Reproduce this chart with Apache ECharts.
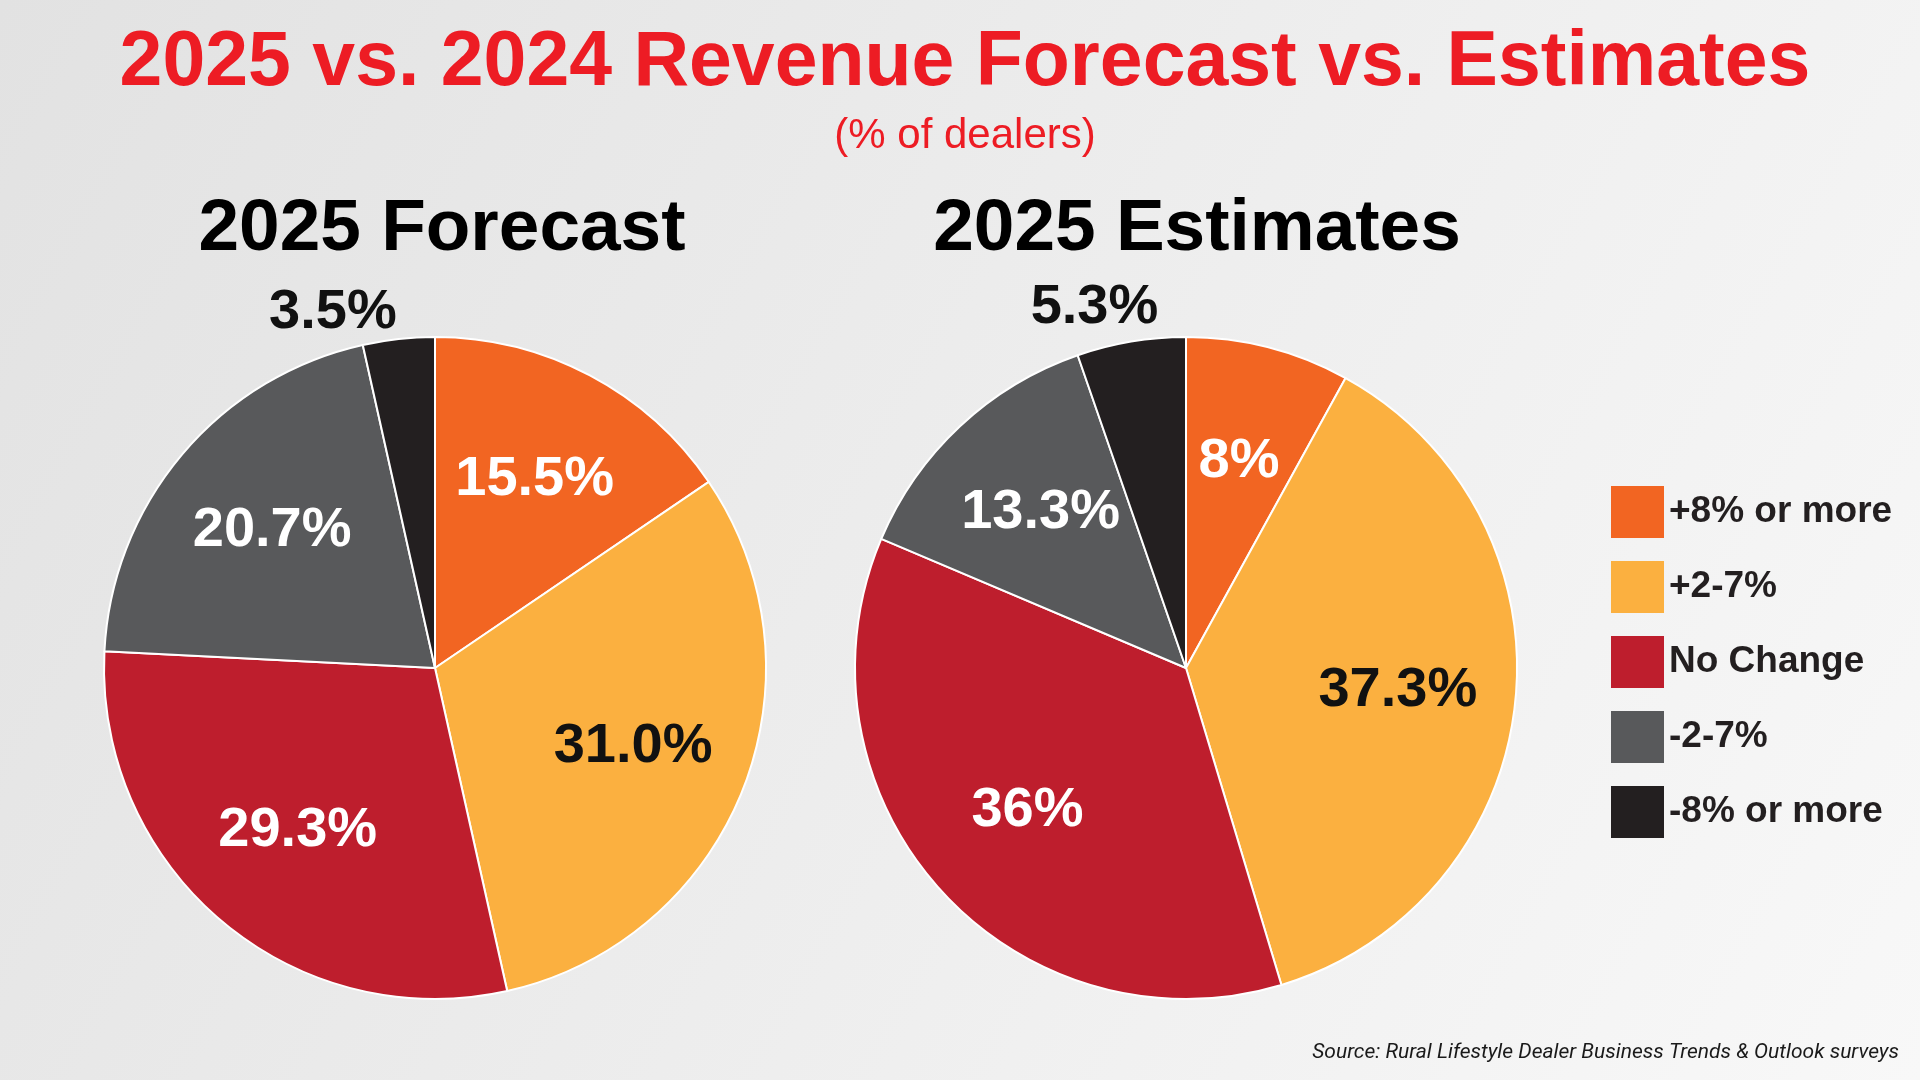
<!DOCTYPE html>
<html>
<head>
<meta charset="utf-8">
<title>2025 vs. 2024 Revenue Forecast vs. Estimates</title>
<script src="https://cdn.jsdelivr.net/npm/echarts@6/dist/echarts.min.js"></script>
<style>
html, body { margin: 0; padding: 0; }
#chart { width: 1920px; height: 1080px; }
</style>
</head>
<body>
<div id="chart"></div>
<script>
// data
const CATEGORIES = ['+8% or more', '+2-7%', 'No Change', '-2-7%', '-8% or more']
const FORECAST_2025 = [15.5, 31.0, 29.3, 20.7, 3.5]
const ESTIMATES_2025 = [8, 37.3, 36, 13.3, 5.3]
const FORECAST_TEXT = ['15.5%', '31.0%', '29.3%', '20.7%', '3.5%']
const ESTIMATES_TEXT = ['8%', '37.3%', '36%', '13.3%', '5.3%']

const SLICE_COLORS = ['#f26522', '#fbb040', '#be1e2d', '#58595b', '#231f20']
const INSIDE_TEXT_COLORS = ['#ffffff', '#111111', '#ffffff', '#ffffff', '#ffffff']
const SANS = '"Liberation Sans", Arial, sans-serif'
const SMALL_SLICE = 6

const R = 331
const GHOST_R = 420

const chart = echarts.init(document.getElementById('chart'))

// the real pie: slices + the outside label for the tiny slice
const mainPie = (values, texts, cx, lineLen, lineLen2) => ({
  type: 'pie',
  center: [cx, 668],
  radius: [0, R],
  startAngle: 90,
  clockwise: true,
  avoidLabelOverlap: false,
  silent: true,
  itemStyle: { borderColor: '#ffffff', borderWidth: 2 },
  label: {
    show: false,
    position: 'outside',
    color: '#111111',
    fontFamily: SANS,
    fontWeight: 'bold',
    fontSize: 56,
    formatter: p => texts[p.dataIndex]
  },
  labelLine: { show: false, length: lineLen, length2: lineLen2 },
  data: values.map((v, i) => ({
    name: CATEGORIES[i],
    value: v,
    itemStyle: { color: SLICE_COLORS[i] },
    label: { show: v < SMALL_SLICE }
  }))
})

// transparent, larger pie so the inside labels sit further out
const ghostPie = (values, texts, cx) => ({
  type: 'pie',
  center: [cx, 668],
  radius: [0, GHOST_R],
  startAngle: 90,
  clockwise: true,
  avoidLabelOverlap: false,
  silent: true,
  z: 3,
  itemStyle: { color: 'rgba(0,0,0,0)', borderWidth: 0 },
  label: {
    position: 'inside',
    fontFamily: SANS,
    fontWeight: 'bold',
    fontSize: 56,
    formatter: p => texts[p.dataIndex]
  },
  labelLine: { show: false },
  data: values.map((v, i) => ({
    name: CATEGORIES[i],
    value: v,
    itemStyle: { color: 'rgba(0,0,0,0)' },
    label: { show: v >= SMALL_SLICE, color: INSIDE_TEXT_COLORS[i] }
  }))
})

const option = {
  backgroundColor: new echarts.graphic.LinearGradient(0, 0, 1, 1, [
    { offset: 0, color: '#e2e2e2' },
    { offset: 1, color: '#f8f8f8' }
  ]),
  animation: false,
  title: [
    {
      text: '2025 vs. 2024 Revenue Forecast vs. Estimates',
      left: 960,
      top: 20,
      textAlign: 'center',
      textStyle: { color: '#ed1c24', fontFamily: SANS, fontWeight: 'bold', fontSize: 77, lineHeight: 77 }
    },
    {
      text: '(% of dealers)',
      left: 960,
      top: 110,
      textAlign: 'center',
      textStyle: { color: '#ed1c24', fontFamily: SANS, fontWeight: 'normal', fontSize: 42, lineHeight: 42 }
    },
    {
      text: '2025 Forecast',
      left: 437,
      top: 188,
      textAlign: 'center',
      textStyle: { color: '#000000', fontFamily: SANS, fontWeight: 'bold', fontSize: 73, lineHeight: 73 }
    },
    {
      text: '2025 Estimates',
      left: 1192,
      top: 188,
      textAlign: 'center',
      textStyle: { color: '#000000', fontFamily: SANS, fontWeight: 'bold', fontSize: 73, lineHeight: 73 }
    },
    {
      text: 'Source: Rural Lifestyle Dealer Business Trends & Outlook surveys',
      right: 16,
      top: 1037,
      textStyle: { color: '#1a1a1a', fontFamily: 'Roboto, ' + SANS, fontStyle: 'italic', fontWeight: 'normal', fontSize: 21, lineHeight: 21 }
    }
  ],
  legend: {
    orient: 'vertical',
    left: 1606,
    top: 481,
    icon: 'rect',
    itemWidth: 53,
    itemHeight: 52,
    itemGap: 23,
    selectedMode: false,
    data: CATEGORIES,
    itemStyle: { borderWidth: 0 },
    textStyle: {
      color: '#231f20',
      fontFamily: SANS,
      fontWeight: 'bold',
      fontSize: 37
    }
  },
  series: [
    mainPie(FORECAST_2025, FORECAST_TEXT, 435, 27, -6),
    mainPie(ESTIMATES_2025, ESTIMATES_TEXT, 1186, 35, -38),
    ghostPie(FORECAST_2025, FORECAST_TEXT, 435),
    ghostPie(ESTIMATES_2025, ESTIMATES_TEXT, 1186)
  ]
}

chart.setOption(option)
</script>
</body>
</html>
